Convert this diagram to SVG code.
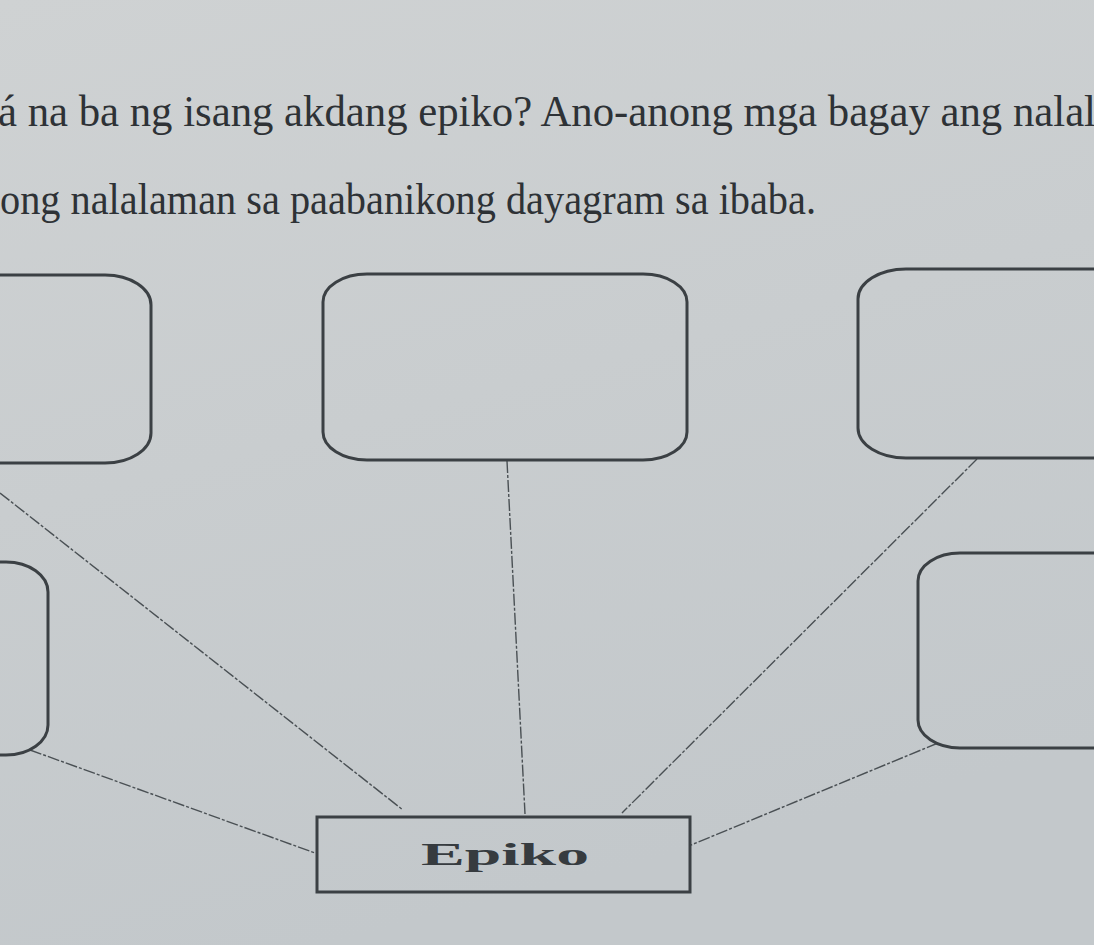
<svg xmlns="http://www.w3.org/2000/svg" width="1094" height="945" viewBox="0 0 1094 945">
  <defs>
    <linearGradient id="paper" x1="0" y1="0" x2="0.3" y2="1">
      <stop offset="0" stop-color="#cfd2d3"/>
      <stop offset="0.5" stop-color="#c9cdcf"/>
      <stop offset="1" stop-color="#c3c8cb"/>
    </linearGradient>
    <style>
      .para { font-family: "Liberation Serif", "Times New Roman", serif; font-size: 44px; fill: #2e3236; }
      .box { fill: none; stroke: #3b4044; stroke-width: 3; }
      .conn { fill: none; stroke: #4a5054; stroke-width: 1.4; stroke-dasharray: 12 2 3 2; }
      .label { font-family: "Liberation Serif", "Times New Roman", serif; font-weight: bold; font-size: 31px; fill: #363b3f; }
    </style>
  </defs>
  <rect x="0" y="0" width="1094" height="945" fill="url(#paper)"/>

  <text class="para" x="-2" y="126" textLength="1098" lengthAdjust="spacingAndGlyphs">á na ba ng isang akdang epiko? Ano-anong mga bagay ang nalal</text>
  <text class="para" x="0" y="214" textLength="816" lengthAdjust="spacingAndGlyphs">ong nalalaman sa paabanikong dayagram sa ibaba.</text>

  <g id="connectors">
    <line class="conn" x1="0" y1="493" x2="403" y2="810"/>
    <line class="conn" x1="507" y1="461" x2="525" y2="814"/>
    <line class="conn" x1="977" y1="459" x2="622" y2="813"/>
    <line class="conn" x1="30" y1="750" x2="315" y2="853"/>
    <line class="conn" x1="938" y1="743" x2="691" y2="845"/>
  </g>

  <g id="box-top-left">
    <rect class="box" x="-60" y="275" width="211" height="188" rx="46" ry="30"/>
  </g>
  <g id="box-top-middle">
    <rect class="box" x="323" y="274" width="364" height="186" rx="44" ry="28"/>
  </g>
  <g id="box-top-right">
    <rect class="box" x="858" y="269" width="300" height="189" rx="48" ry="30"/>
  </g>
  <g id="box-mid-left">
    <rect class="box" x="-110" y="562" width="158" height="193" rx="42" ry="30"/>
  </g>
  <g id="box-mid-right">
    <rect class="box" x="918" y="553" width="250" height="195" rx="42" ry="28"/>
  </g>
  <g id="node-epiko">
    <rect class="box" x="317" y="817" width="373" height="75" stroke-width="2.6"/>
    <text class="label" x="421" y="865" textLength="168" lengthAdjust="spacingAndGlyphs">Epiko</text>
  </g>
</svg>
